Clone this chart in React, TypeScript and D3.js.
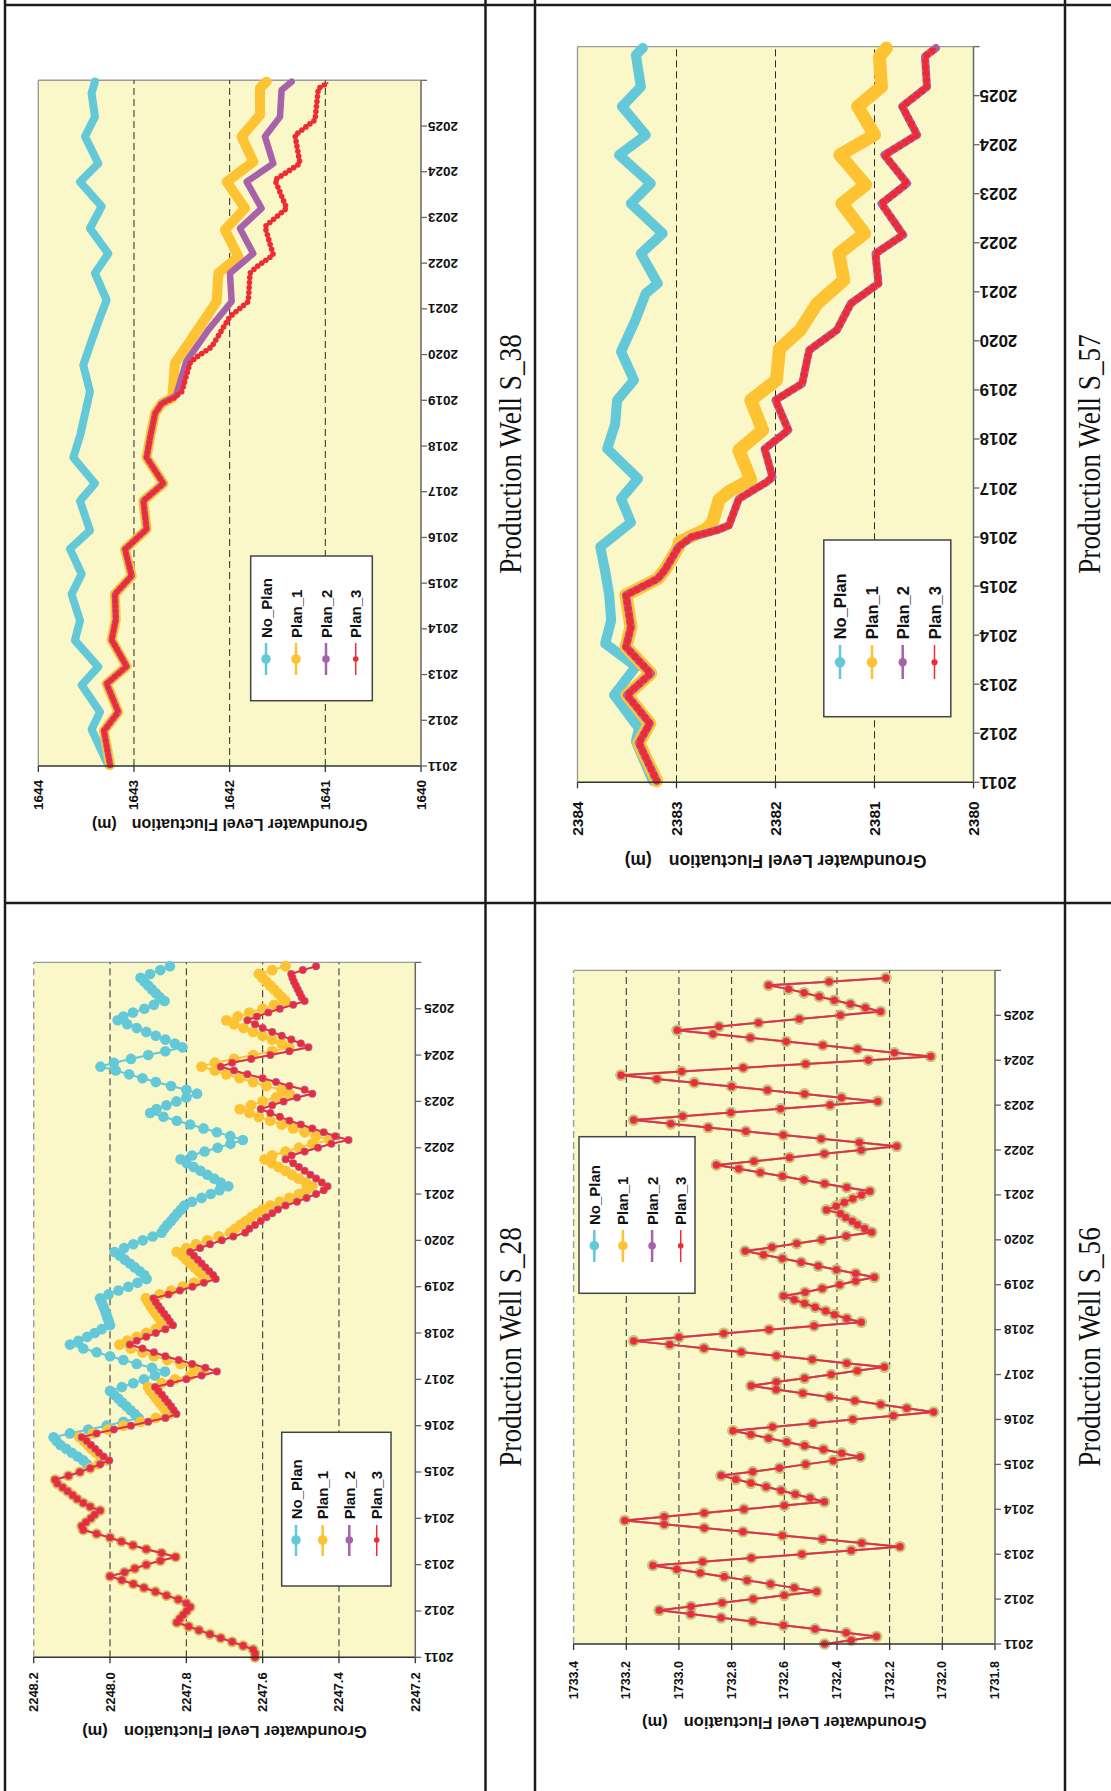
import React from "react";
import * as d3 from "d3";

// page is laid out landscape (1791 x 1111) and turned a quarter turn counter-clockwise
const PAGE_W = 1791;
const PAGE_H = 1111;

const YEAR_TICKS = [2011, 2012, 2013, 2014, 2015, 2016, 2017, 2018, 2019, 2020, 2021, 2022, 2023, 2024, 2025, 2026];
const YEAR_LABELS = ["2011", "2012", "2013", "2014", "2015", "2016", "2017", "2018", "2019", "2020", "2021", "2022", "2023", "2024", "2025"];
const SERIES_NAMES = ["No_Plan", "Plan_1", "Plan_2", "Plan_3"];
const SERIES_COLORS = ["#63c8d8", "#fec332", "#a762a9", "#ee2b33"];
const BG = "#faf7c8";

const S28_TICKS = [2248.2, 2248.0, 2247.8, 2247.6, 2247.4, 2247.2];
const S38_TICKS = [1644, 1643, 1642, 1641, 1640];
const S56_TICKS = [1733.4, 1733.2, 1733.0, 1732.8, 1732.6, 1732.4, 1732.2, 1732.0, 1731.8];
const S57_TICKS = [2384, 2383, 2382, 2381, 2380];

// ---- S_28, monthly values from Jan 2011 ----
const S28_SHARED = [
  2247.62, 2247.62, 2247.625, 2247.651, 2247.68, 2247.71, 2247.738, 2247.767, 2247.794, 2247.825,
  2247.817, 2247.808, 2247.799, 2247.79, 2247.8, 2247.821, 2247.852, 2247.881, 2247.911, 2247.939,
  2247.969, 2248.0, 2247.962, 2247.935, 2247.905, 2247.868, 2247.828, 2247.865, 2247.905, 2247.94,
  2247.97, 2248.0, 2248.035, 2248.07, 2248.074, 2248.063, 2248.05, 2248.04, 2248.026, 2248.052,
  2248.07, 2248.086, 2248.098, 2248.111, 2248.124, 2248.138, 2248.144, 2248.109, 2248.079, 2248.052,
];
const S28_NO_PLAN_TAIL = [
  2248.06, 2248.07, 2248.085, 2248.1, 2248.115, 2248.13, 2248.14, 2248.148, 2248.105, 2248.057,
  2248.009, 2247.965, 2247.925, 2247.935, 2247.946, 2247.957, 2247.968, 2247.978, 2247.989, 2248.0,
  2247.969, 2247.939, 2247.911, 2247.882, 2247.856, 2247.89, 2247.93, 2247.965, 2248.0, 2248.035,
  2248.07, 2248.105, 2248.083, 2248.06, 2248.04, 2248.022, 2248.0, 2248.003, 2248.007, 2248.01,
  2248.014, 2248.018, 2248.022, 2248.026, 2248.004, 2247.978, 2247.952, 2247.928, 2247.904, 2247.91,
  2247.922, 2247.935, 2247.948, 2247.961, 2247.974, 2247.988, 2247.963, 2247.939, 2247.914, 2247.888,
  2247.865, 2247.858, 2247.85, 2247.84, 2247.832, 2247.823, 2247.814, 2247.805, 2247.785, 2247.76,
  2247.736, 2247.713, 2247.69, 2247.71, 2247.727, 2247.745, 2247.763, 2247.781, 2247.799, 2247.815,
  2247.785, 2247.752, 2247.718, 2247.684, 2247.652, 2247.685, 2247.72, 2247.755, 2247.79, 2247.825,
  2247.86, 2247.895, 2247.878, 2247.852, 2247.826, 2247.8, 2247.772, 2247.8, 2247.84, 2247.88,
  2247.915, 2247.95, 2247.985, 2248.025, 2247.99, 2247.945, 2247.9, 2247.855, 2247.81, 2247.83,
  2247.855, 2247.88, 2247.905, 2247.93, 2247.955, 2247.98, 2247.965, 2247.94, 2247.91, 2247.885,
  2247.857, 2247.87, 2247.88, 2247.89, 2247.9, 2247.91, 2247.92, 2247.895, 2247.868, 2247.843,
];
const S28_PLAN1_TAIL = [
  2248.03, 2248.01, 2248.025, 2248.037, 2248.048, 2248.058, 2248.068, 2248.08, 2248.045, 2248.005,
  2247.965, 2247.92, 2247.88, 2247.845, 2247.855, 2247.862, 2247.87, 2247.878, 2247.886, 2247.894,
  2247.9, 2247.865, 2247.83, 2247.79, 2247.755, 2247.78, 2247.815, 2247.85, 2247.885, 2247.915,
  2247.945, 2247.975, 2247.955, 2247.93, 2247.905, 2247.88, 2247.86, 2247.866, 2247.872, 2247.88,
  2247.887, 2247.894, 2247.9, 2247.906, 2247.87, 2247.84, 2247.81, 2247.78, 2247.75, 2247.758,
  2247.768, 2247.778, 2247.79, 2247.8, 2247.81, 2247.825, 2247.8, 2247.775, 2247.745, 2247.715,
  2247.685, 2247.672, 2247.658, 2247.644, 2247.63, 2247.615, 2247.6, 2247.58, 2247.555, 2247.53,
  2247.505, 2247.485, 2247.47, 2247.487, 2247.505, 2247.523, 2247.54, 2247.558, 2247.576, 2247.595,
  2247.575, 2247.54, 2247.505, 2247.47, 2247.425, 2247.46, 2247.49, 2247.52, 2247.55, 2247.58,
  2247.61, 2247.635, 2247.66, 2247.63, 2247.6, 2247.565, 2247.53, 2247.55, 2247.59, 2247.625,
  2247.66, 2247.695, 2247.725, 2247.76, 2247.725, 2247.675, 2247.625, 2247.575, 2247.53, 2247.55,
  2247.575, 2247.6, 2247.625, 2247.65, 2247.675, 2247.695, 2247.665, 2247.635, 2247.6, 2247.57,
  2247.54, 2247.55, 2247.56, 2247.57, 2247.58, 2247.59, 2247.6, 2247.61, 2247.575, 2247.54,
];
const S28_PLAN3_TAIL = [
  2248.026, 2248.002, 2248.017, 2248.029, 2248.039, 2248.05, 2248.061, 2248.074, 2248.035, 2247.99,
  2247.945, 2247.9, 2247.855, 2247.826, 2247.833, 2247.84, 2247.848, 2247.856, 2247.864, 2247.873,
  2247.882, 2247.842, 2247.8, 2247.76, 2247.72, 2247.75, 2247.785, 2247.82, 2247.855, 2247.885,
  2247.915, 2247.948, 2247.93, 2247.905, 2247.88, 2247.855, 2247.835, 2247.843, 2247.85, 2247.858,
  2247.866, 2247.873, 2247.88, 2247.886, 2247.847, 2247.817, 2247.784, 2247.754, 2247.723, 2247.73,
  2247.74, 2247.75, 2247.76, 2247.77, 2247.78, 2247.79, 2247.764, 2247.738, 2247.707, 2247.677,
  2247.646, 2247.635, 2247.62, 2247.605, 2247.59, 2247.575, 2247.56, 2247.54, 2247.51, 2247.485,
  2247.46, 2247.44, 2247.43, 2247.445, 2247.46, 2247.475, 2247.49, 2247.505, 2247.52, 2247.54,
  2247.524, 2247.49, 2247.455, 2247.42, 2247.375, 2247.41, 2247.44, 2247.47, 2247.5, 2247.53,
  2247.555, 2247.58, 2247.605, 2247.575, 2247.545, 2247.51, 2247.47, 2247.49, 2247.53, 2247.565,
  2247.6, 2247.64, 2247.675, 2247.71, 2247.68, 2247.63, 2247.58, 2247.53, 2247.48, 2247.5,
  2247.525, 2247.55, 2247.575, 2247.6, 2247.62, 2247.64, 2247.615, 2247.585, 2247.555, 2247.52,
  2247.49, 2247.498, 2247.503, 2247.508, 2247.513, 2247.518, 2247.522, 2247.525, 2247.495, 2247.46,
];
const S28_NO_PLAN = S28_SHARED.concat(S28_NO_PLAN_TAIL);
const S28_PLAN_1 = S28_SHARED.concat(S28_PLAN1_TAIL);
const S28_PLAN_3 = S28_SHARED.concat(S28_PLAN3_TAIL);

// ---- S_56, monthly, all four scenarios coincide ----
const S56_ALL = [
  1732.447, 1732.346, 1732.25, 1732.365, 1732.483, 1732.603, 1732.72, 1732.84, 1732.955, 1733.075,
  1732.954, 1732.836, 1732.718, 1732.6, 1732.477, 1732.562, 1732.652, 1732.741, 1732.828, 1732.919,
  1733.008, 1733.099, 1732.91, 1732.725, 1732.533, 1732.346, 1732.161, 1732.306, 1732.455, 1732.607,
  1732.757, 1732.904, 1733.056, 1733.206, 1733.056, 1732.904, 1732.753, 1732.6, 1732.448, 1732.502,
  1732.558, 1732.612, 1732.669, 1732.727, 1732.784, 1732.84, 1732.72, 1732.618, 1732.519, 1732.414,
  1732.311, 1732.382, 1732.451, 1732.523, 1732.591, 1732.66, 1732.727, 1732.795, 1732.645, 1732.491,
  1732.34, 1732.186, 1732.033, 1732.135, 1732.234, 1732.332, 1732.428, 1732.53, 1732.631, 1732.726,
  1732.63, 1732.523, 1732.422, 1732.323, 1732.22, 1732.363, 1732.494, 1732.63, 1732.763, 1732.905,
  1733.035, 1733.172, 1733.0, 1732.83, 1732.658, 1732.487, 1732.308, 1732.363, 1732.409, 1732.443,
  1732.483, 1732.523, 1732.562, 1732.603, 1732.521, 1732.456, 1732.39, 1732.329, 1732.258, 1732.329,
  1732.402, 1732.471, 1732.536, 1732.607, 1732.679, 1732.749, 1732.647, 1732.553, 1732.458, 1732.365,
  1732.268, 1732.295, 1732.322, 1732.342, 1732.367, 1732.387, 1732.44, 1732.403, 1732.372, 1732.34,
  1732.307, 1732.275, 1732.363, 1732.447, 1732.525, 1732.607, 1732.691, 1732.773, 1732.858, 1732.715,
  1732.58, 1732.448, 1732.308, 1732.173, 1732.315, 1732.46, 1732.604, 1732.746, 1732.889, 1733.031,
  1733.172, 1732.986, 1732.803, 1732.614, 1732.426, 1732.245, 1732.383, 1732.523, 1732.664, 1732.8,
  1732.942, 1733.084, 1733.22, 1732.99, 1732.756, 1732.519, 1732.281, 1732.044, 1732.182, 1732.322,
  1732.454, 1732.593, 1732.729, 1732.871, 1733.007, 1732.848, 1732.698, 1732.543, 1732.387, 1732.234,
  1732.292, 1732.349, 1732.41, 1732.467, 1732.525, 1732.584, 1732.66, 1732.43, 1732.214,
];

// ---- S_38, [year, level] vertices of the dense traces ----
const S38_NO_PLAN = [
  [2011.02, 1643.27], [2011.8, 1643.443], [2012.18, 1643.355], [2012.77, 1643.547], [2013.17, 1643.373],
  [2013.75, 1643.617], [2014.18, 1643.564], [2014.76, 1643.652], [2015.2, 1643.547], [2015.75, 1643.669],
  [2016.15, 1643.46], [2016.8, 1643.564], [2017.18, 1643.408], [2017.75, 1643.634], [2018.25, 1643.56],
  [2018.71, 1643.512], [2019.19, 1643.46], [2019.77, 1643.53], [2020.32, 1643.44], [2020.9, 1643.34],
  [2021.19, 1643.286], [2021.78, 1643.408], [2022.21, 1643.268], [2022.76, 1643.46], [2023.24, 1643.338],
  [2023.78, 1643.564], [2024.18, 1643.373], [2024.77, 1643.512], [2025.2, 1643.408], [2025.72, 1643.443],
  [2025.97, 1643.408],
];
const S38_SHARED = [
  [2011.02, 1643.25], [2011.77, 1643.314], [2012.18, 1643.164], [2012.8, 1643.286], [2013.18, 1643.077],
  [2013.76, 1643.233], [2014.2, 1643.19], [2014.76, 1643.199], [2015.16, 1643.024], [2015.74, 1643.094],
  [2016.18, 1642.868], [2016.8, 1642.902], [2017.18, 1642.693], [2017.75, 1642.868], [2018.2, 1642.83],
  [2018.71, 1642.78], [2018.93, 1642.711],
];
const S38_PLAN1_TAIL = [
  [2019.05, 1642.6], [2019.81, 1642.572], [2020.72, 1642.275], [2021.16, 1642.136], [2021.78, 1642.118],
  [2022.14, 1641.909], [2022.73, 1642.049], [2023.2, 1641.84], [2023.78, 1642.031], [2024.22, 1641.753],
  [2024.77, 1641.875], [2025.24, 1641.683], [2025.83, 1641.683], [2025.97, 1641.613],
];
const S38_PLAN2_TAIL = [
  [2019.1, 1642.56], [2019.85, 1642.453], [2020.54, 1642.223], [2021.16, 1641.979], [2021.78, 1641.997],
  [2022.21, 1641.753], [2022.76, 1641.892], [2023.2, 1641.666], [2023.78, 1641.822], [2024.18, 1641.544],
  [2024.77, 1641.631], [2025.2, 1641.474], [2025.79, 1641.457], [2025.97, 1641.352],
];
const S38_PLAN3_TAIL = [
  [2019.04, 1642.59], [2019.19, 1642.5], [2019.81, 1642.415], [2019.92, 1642.362], [2020.17, 1642.188],
  [2020.83, 1641.997], [2021.16, 1641.805], [2021.78, 1641.787], [2021.92, 1641.718], [2022.18, 1641.544],
  [2022.8, 1641.631], [2023.2, 1641.404], [2023.82, 1641.526], [2024.18, 1641.265], [2024.8, 1641.317],
  [2025.13, 1641.108], [2025.82, 1641.073], [2025.95, 1640.969],
];

// ---- S_57 ----
const S57_NO_PLAN = [
  [2011.03, 2383.24], [2011.83, 2383.41], [2012.1, 2383.38], [2012.78, 2383.63], [2013.36, 2383.41],
  [2013.83, 2383.72], [2014.3, 2383.66], [2014.82, 2383.68], [2015.3, 2383.72], [2015.8, 2383.77],
  [2016.3, 2383.46], [2016.78, 2383.56], [2017.19, 2383.39], [2017.8, 2383.7], [2018.3, 2383.62],
  [2018.79, 2383.6], [2019.2, 2383.43], [2019.78, 2383.56], [2020.4, 2383.42], [2020.97, 2383.31],
  [2021.17, 2383.19], [2021.78, 2383.36], [2022.19, 2383.14], [2022.8, 2383.46], [2023.21, 2383.26],
  [2023.79, 2383.58], [2024.2, 2383.31], [2024.78, 2383.55], [2025.18, 2383.36], [2025.83, 2383.41],
  [2025.97, 2383.34],
];
const S57_SHARED = [
  [2011.03, 2383.2], [2011.8, 2383.38], [2012.2, 2383.27], [2012.78, 2383.5], [2013.22, 2383.26],
  [2013.76, 2383.51], [2014.17, 2383.46], [2014.82, 2383.51], [2015.15, 2383.19], [2015.32, 2383.12],
  [2015.8, 2382.98],
];
const S57_PLAN1_TAIL = [
  [2015.9, 2382.97], [2016.15, 2382.71], [2016.28, 2382.64], [2016.76, 2382.57], [2016.93, 2382.47],
  [2017.17, 2382.25], [2017.77, 2382.37], [2018.18, 2382.13], [2018.79, 2382.25], [2019.2, 2381.99],
  [2019.84, 2381.96], [2020.22, 2381.75], [2020.76, 2381.58], [2021.24, 2381.31], [2021.78, 2381.36],
  [2022.19, 2381.1], [2022.8, 2381.33], [2023.18, 2381.09], [2023.79, 2381.35], [2024.2, 2381.0],
  [2024.78, 2381.17], [2025.18, 2380.93], [2025.8, 2380.95], [2025.97, 2380.88],
];
const S57_PLAN3_TAIL = [
  [2016.0, 2382.85], [2016.14, 2382.59], [2016.24, 2382.47], [2016.78, 2382.37], [2017.12, 2382.09],
  [2017.22, 2382.03], [2017.8, 2382.11], [2018.18, 2381.87], [2018.79, 2382.0], [2019.13, 2381.73],
  [2019.81, 2381.66], [2020.22, 2381.38], [2020.76, 2381.24], [2021.17, 2380.96], [2021.78, 2380.99],
  [2022.16, 2380.71], [2022.8, 2380.93], [2023.21, 2380.67], [2023.79, 2380.9], [2024.2, 2380.57],
  [2024.78, 2380.72], [2025.18, 2380.47], [2025.8, 2380.49], [2025.97, 2380.38],
];

const SANS = "'Liberation Sans', Arial, sans-serif";
const SERIF = "'Liberation Serif', 'Times New Roman', serif";

const CHARTS = [
  {
    name: "Production Well S_28",
    x0: 133.7, x1: 828.6, yTop: 33.7, yBot: 415.3, vMin: 2247.2, vMax: 2248.2, ticks: S28_TICKS, decimals: 1,
    valueFont: 13, yearFont: 13.5, titleFont: 16.5, legendFont: 15,
    valueGap: 15, yearGap: 9, titleX: 59.3, unitGap: 16, edgeDashed: true,
    legend: { x0: 205, x1: 358.7, y0: 281.7, y1: 391, rows: [296, 322.7, 349.3, 376.7], lx0: 235, lx1: 266, mx: 251, tx: 271.7 },
    mode: "dots", radii: [5.3, 5.4, 4, 3.1],
    series: [S28_NO_PLAN, S28_PLAN_1, S28_PLAN_3, S28_PLAN_3],
  },
  {
    name: "Production Well S_38",
    x0: 1025, x1: 1710.7, yTop: 38.3, yBot: 421, vMin: 1640, vMax: 1644, ticks: S38_TICKS, decimals: 0,
    valueFont: 13.5, yearFont: 13.5, titleFont: 16, legendFont: 15,
    valueGap: 14, yearGap: 7, titleX: 966, unitGap: 15, edgeDashed: false,
    legend: { x0: 1090.3, x1: 1235, y0: 250.7, y1: 372.3, rows: [266, 296, 326, 355.7], lx0: 1116, lx1: 1148, mx: 1132, tx: 1153 },
    mode: "band", widths: [8, 10, 6.5, 5.6], dotGap: 5,
    series: [S38_NO_PLAN, S38_SHARED.concat(S38_PLAN1_TAIL), S38_SHARED.concat(S38_PLAN2_TAIL), S38_SHARED.concat(S38_PLAN3_TAIL)],
  },
  {
    name: "Production Well S_56",
    x0: 147, x1: 820.6, yTop: 573.6, yBot: 995, vMin: 1731.8, vMax: 1733.4, ticks: S56_TICKS, decimals: 1,
    valueFont: 12.5, yearFont: 13.5, titleFont: 16.5, legendFont: 15,
    valueGap: 17, yearGap: 9, titleX: 67.7, unitGap: 16, edgeDashed: true,
    legend: { x0: 497.7, x1: 654.3, y0: 579, y1: 695, rows: [594.3, 622.9, 652.1, 680.7], lx0: 529, lx1: 561, mx: 545.3, tx: 566 },
    mode: "dots", radii: [5.8, 5.4, 4, 3.1],
    series: [S56_ALL, S56_ALL, S56_ALL, S56_ALL],
  },
  {
    name: "Production Well S_57",
    x0: 1008.7, x1: 1744.4, yTop: 577.5, yBot: 973.5, vMin: 2380, vMax: 2384, ticks: S57_TICKS, decimals: 0,
    valueFont: 15.5, yearFont: 17, titleFont: 17.5, legendFont: 16.5,
    valueGap: 19, yearGap: 6, titleX: 930.3, unitGap: 17, edgeDashed: false,
    legend: { x0: 1074.3, x1: 1251, y0: 823.8, y1: 950.8, rows: [840, 872, 902.7, 934.5], lx0: 1112, lx1: 1146, mx: 1128.7, tx: 1151.7 },
    mode: "band", widths: [10, 13, 8, 7], dotGap: 6.5,
    series: [S57_NO_PLAN, S57_SHARED.concat(S57_PLAN1_TAIL), S57_SHARED.concat(S57_PLAN3_TAIL), S57_SHARED.concat(S57_PLAN3_TAIL)],
  },
];

const LEGEND_R = [4.8, 4.8, 3.8, 2.8];

function Chart({ c }: { c: any }) {
  const x = d3.scaleLinear().domain([2011, 2026]).range([c.x0, c.x1]);
  const y = d3.scaleLinear().domain([c.vMin, c.vMax]).range([c.yBot, c.yTop]);
  const fmt = c.decimals ? d3.format(".1f") : d3.format("d");
  const line = d3.line<number[]>().x((d) => x(d[0])).y((d) => y(d[1]));
  const yMid = (c.yTop + c.yBot) / 2;
  const L = c.legend;

  const drawSeries = () => {
    if (c.mode === "dots") {
      return c.series.map((vals: number[], k: number) => {
        const pts = vals.map((v, i) => [2011 + i / 12, v]);
        return (
          <g key={k}>
            <path d={line(pts) || ""} fill="none" stroke={SERIES_COLORS[k]} strokeWidth={k === 3 ? 1.5 : 2} />
            {pts.map((p, i) => (
              <circle key={i} cx={x(p[0])} cy={y(p[1])} r={c.radii[k]} fill={SERIES_COLORS[k]} />
            ))}
          </g>
        );
      });
    }
    return c.series.map((pts: number[][], k: number) => {
      const d = line(pts) || "";
      if (k === 3) {
        return (
          <g key={k}>
            <path d={d} fill="none" stroke={SERIES_COLORS[k]} strokeWidth={1.8} strokeLinejoin="round" />
            <path d={d} fill="none" stroke={SERIES_COLORS[k]} strokeWidth={c.widths[k]}
              strokeDasharray={`0 ${c.dotGap}`} strokeLinecap="round" strokeLinejoin="round" />
          </g>
        );
      }
      return (
        <path key={k} d={d} fill="none" stroke={SERIES_COLORS[k]} strokeWidth={c.widths[k]}
          strokeLinejoin="round" strokeLinecap="round" />
      );
    });
  };

  return (
    <g>
      <rect x={c.x0} y={c.yTop} width={c.x1 - c.x0} height={c.yBot - c.yTop} fill={BG} />
      <line x1={c.x0} x2={c.x1} y1={c.yTop} y2={c.yTop} stroke="#9c9c9c" strokeWidth={1.4}
        strokeDasharray={c.edgeDashed ? "7 4" : undefined} />
      <line x1={c.x1} x2={c.x1} y1={c.yTop} y2={c.yBot} stroke="#9c9c9c" strokeWidth={1.4} />
      {c.ticks.slice(1, -1).map((t: number) => (
        <line key={t} x1={c.x0} x2={c.x1} y1={y(t)} y2={y(t)} stroke="#2a2a2a" strokeWidth={1} strokeDasharray="7 4" />
      ))}

      {drawSeries()}

      {/* value axis */}
      <line x1={c.x0} x2={c.x0} y1={c.yTop} y2={c.yBot} stroke="#333" strokeWidth={1.5} />
      {c.ticks.map((t: number) => (
        <g key={t}>
          <line x1={c.x0 - 6} x2={c.x0} y1={y(t)} y2={y(t)} stroke="#333" strokeWidth={1.3} />
          <text x={c.x0 - c.valueGap} y={y(t)} textAnchor="end" dominantBaseline="central"
            fontFamily={SANS} fontWeight="bold" fontSize={c.valueFont} fill="#111">{fmt(t)}</text>
        </g>
      ))}

      {/* time axis */}
      <line x1={c.x0} x2={c.x1} y1={c.yBot} y2={c.yBot} stroke="#666" strokeWidth={1.5} />
      {YEAR_TICKS.map((t) => (
        <line key={t} x1={x(t)} x2={x(t)} y1={c.yBot} y2={c.yBot + 6} stroke="#666" strokeWidth={1.3} />
      ))}
      {YEAR_LABELS.map((s, i) => {
        const px = x(YEAR_TICKS[i]);
        const py = c.yBot + c.yearGap;
        return (
          <text key={s} x={px} y={py} transform={`rotate(-90 ${px} ${py})`} textAnchor="end" dominantBaseline="central"
            fontFamily={SANS} fontWeight="bold" fontSize={c.yearFont} fill="#111">{s}</text>
        );
      })}

      {/* axis title */}
      <text x={c.titleX} y={yMid} transform={`rotate(-90 ${c.titleX} ${yMid})`} textAnchor="middle"
        dominantBaseline="central" fontFamily={SANS} fontWeight="bold" fontSize={c.titleFont} fill="#111">
        <tspan>Groundwater Level Fluctuation</tspan>
        <tspan dx={c.unitGap}>(m)</tspan>
      </text>

      {/* legend */}
      <rect x={L.x0} y={L.y0} width={L.x1 - L.x0} height={L.y1 - L.y0} fill="#fff" stroke="#444" strokeWidth={1.5} />
      {SERIES_NAMES.map((n, k) => (
        <g key={n}>
          <line x1={L.lx0} x2={L.lx1} y1={L.rows[k]} y2={L.rows[k]} stroke={SERIES_COLORS[k]} strokeWidth={k === 3 ? 1.5 : 2.5} />
          <circle cx={L.mx} cy={L.rows[k]} r={LEGEND_R[k] * (c.legendFont / 15)} fill={SERIES_COLORS[k]} />
          <text x={L.tx} y={L.rows[k]} dominantBaseline="central" fontFamily={SANS} fontWeight="bold"
            fontSize={c.legendFont} fill="#111">{n}</text>
        </g>
      ))}
    </g>
  );
}

// table grid in page coordinates
const ROW_LINES = [5, 485.5, 535, 1065];
const COL_LINES = [888, 1786];
const CAPTIONS = [
  { x: 444, y: 521 },
  { x: 1337, y: 521 },
  { x: 444, y: 1100 },
  { x: 1337, y: 1100 },
];

export default function App() {
  return (
    <svg width={PAGE_H} height={PAGE_W} style={{ position: "absolute", left: 0, top: 0, background: "#fff" }}>
      <g transform={`translate(0,${PAGE_W}) rotate(-90)`}>
        {CHARTS.map((c) => (
          <Chart key={c.name} c={c} />
        ))}
        {CHARTS.map((c, i) => (
          <text key={c.name} x={CAPTIONS[i].x} y={CAPTIONS[i].y} textAnchor="middle" fontFamily={SERIF}
            fontSize={31} fill="#111" transform={`translate(${CAPTIONS[i].x} 0) scale(0.88 1) translate(${-CAPTIONS[i].x} 0)`}>
            {c.name}
          </text>
        ))}
        {ROW_LINES.map((r) => (
          <line key={r} x1={0} x2={PAGE_W} y1={r} y2={r} stroke="#1c1c1c" strokeWidth={2.5} />
        ))}
        {COL_LINES.map((cx) => (
          <line key={cx} x1={cx} x2={cx} y1={5} y2={PAGE_H + 10} stroke="#1c1c1c" strokeWidth={2.5} />
        ))}
      </g>
    </svg>
  );
}
